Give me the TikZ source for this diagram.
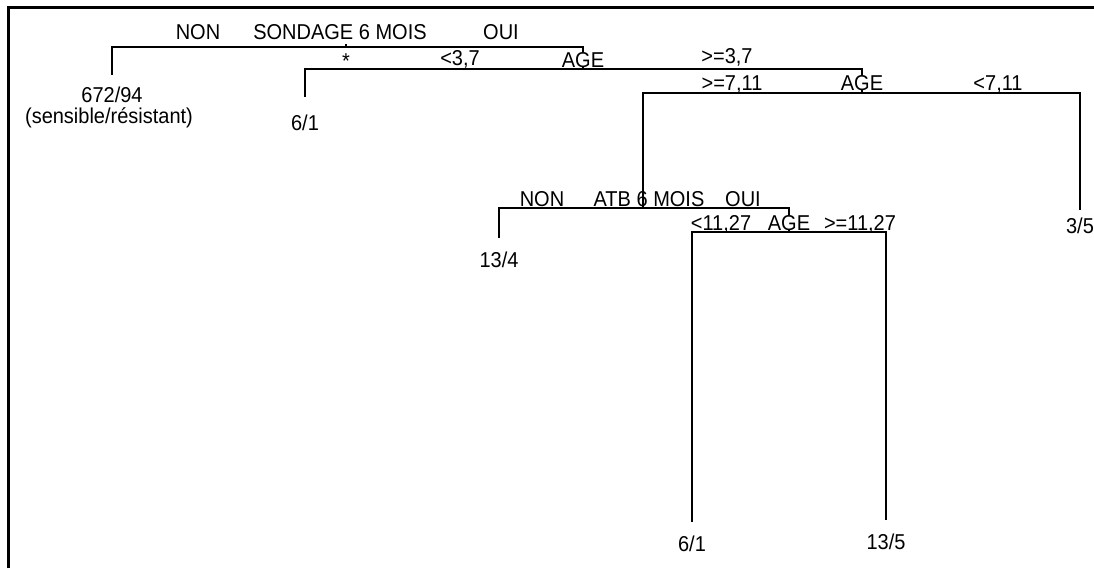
\documentclass[tikz,border=0pt]{standalone}
\usepackage{fontspec}
\setmainfont{Liberation Sans}[FakeStretch=0.93]
\usepackage{tikz}
\usetikzlibrary{positioning}
\usepackage{xcolor}

\begin{document}
\begin{tikzpicture}[
    x=1pt, y=-1pt,
    every node/.style={font=\fontsize{21.5}{23}\selectfont, inner sep=0pt},
    leaf/.style={anchor=north, inner ysep=14pt},
    lab/.style={anchor=base},
    test/.style={anchor=base, fill=white},
    br/.style={line width=1.2pt, color=black},
]

\useasboundingbox (0,0) rectangle (1094,568);
\draw[line width=3pt] (8.5,568) -- (8.5,7.5) -- (1094,7.5);

\coordinate (sondage) at (346,47);
\coordinate (tick) at (346,44);
\coordinate (age1) at (583,69);
\coordinate (age2) at (862,93);
\coordinate (atb) at (643,208);
\coordinate (age3) at (789,232);

\node[leaf, inner ysep=12pt] (r672) at (112,75) {672/94};
\node[leaf, inner ysep=18pt] (r6a) at (305,97) {6/1};
\node[leaf, inner ysep=8pt] (r35) at (1080,210) {3/5};
\node[leaf] (r134) at (499,238) {13/4};
\node[leaf] (r6b) at (692,522) {6/1};
\node[leaf] (r135) at (886,520) {13/5};

\draw[br] (sondage) -- (tick);
\draw[br] (sondage) -| (r672);
\draw[br] (sondage) -| (age1);
\draw[br] (age1) -| (r6a);
\draw[br] (age1) -| (age2);
\draw[br] (age2) -| (atb);
\draw[br] (age2) -| (r35);
\draw[br] (atb) -| (r134);
\draw[br] (atb) -| (age3);
\draw[br] (age3) -| (r6b);
\draw[br] (age3) -| (r135);

\node[lab] (legend) at (109,123) {(sensible/résistant)};
\node[lab] (non1) at (198,39) {NON};
\node[lab] (sondagelab) at (340,39) {SONDAGE 6 MOIS};
\node[lab] (oui1) at (501,39) {OUI};
\node[lab] (star) at (346,68) {*};
\node[lab] (lt37) at (460,65) {<3,7};
\node[test] (age1lab) at (583,67) {AGE};
\node[lab] (ge37) at (727,63) {>=3,7};
\node[lab] (ge711) at (732,90) {>=7,11};
\node[test] (age2lab) at (862,90) {AGE};
\node[lab] (lt711) at (998,90) {<7,11};
\node[lab] (non2) at (542,206) {NON};
\node[lab] (atblab) at (649,206) {ATB 6 MOIS};
\node[lab] (oui2) at (743,206) {OUI};
\node[lab] (lt1127) at (721,230) {<11,27};
\node[test] (age3lab) at (789,230) {AGE};
\node[lab] (ge1127) at (860,230) {>=11,27};

\end{tikzpicture}
\end{document}
